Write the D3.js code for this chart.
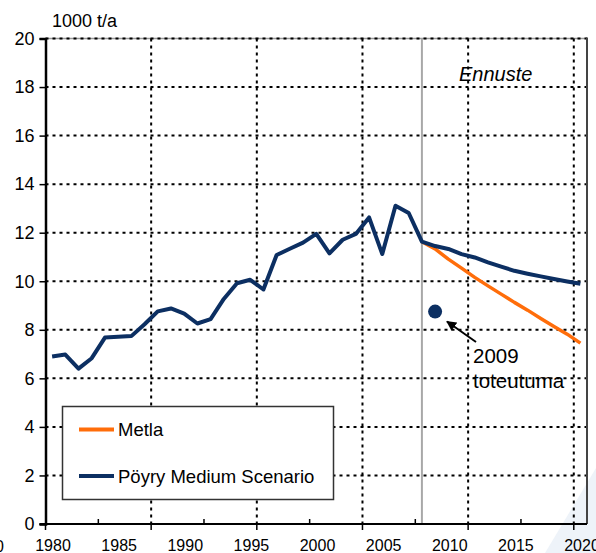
<!DOCTYPE html>
<html><head><meta charset="utf-8">
<script src="https://cdn.jsdelivr.net/npm/d3@7"></script>
<style>
html,body{margin:0;padding:0;background:#fff;}
svg{display:block;font-family:"Liberation Sans",Arial,sans-serif;}
</style></head>
<body>
<svg id="c" width="596" height="553"></svg>
<script>
// ---- data ----
const histYears = [1980,1981,1982,1983,1984,1985,1986,1987,1988,1989,1990,1991,1992,1993,1994,1995,1996,1997,1998,1999,2000,2001,2002,2003,2004,2005,2006,2007,2008];
const histValues = [6.90,6.98,6.40,6.83,7.68,7.71,7.74,8.23,8.76,8.88,8.67,8.26,8.44,9.27,9.92,10.06,9.66,11.08,11.34,11.59,11.95,11.15,11.71,11.95,12.63,11.12,13.11,12.81,11.63];
const fcYears = [2008,2009,2010,2011,2012,2013,2014,2015,2016,2017,2018,2019,2020];
const poyryForecast = [11.63,11.45,11.33,11.12,10.98,10.78,10.60,10.43,10.31,10.20,10.09,9.99,9.90];
const metlaForecast = [11.63,11.33,10.91,10.54,10.16,9.81,9.47,9.13,8.81,8.47,8.14,7.82,7.45];
const actualYear = 2009, actualValue = 8.75;
const yTicks = [0,2,4,6,8,10,12,14,16,18,20];
const xLabels = [1980,1985,1990,1995,2000,2005,2010,2015,2020];
const seriesNames = ["Metla","Pöyry Medium Scenario"];
const forecastStart = 2008;

// ---- layout ----
const L = 45.5, R = 587, T = 38.5, B = 524;
const navy = "#0c2f62", orange = "#ff6d0a";
const svg = d3.select("#c");

const x = d3.scaleLinear().domain([1979.5, 2020.5]).range([L, R]);
const xl = d3.scaleLinear().domain([1980, 2020]).range([52.5, 581.5]);
const y = d3.scaleLinear().domain([0, 20]).range([B, T]);

// background decoration
svg.append("polygon").attr("points","545,553 596,468 596,553").attr("fill","#eef3f9");

// top border (grey)
svg.append("line").attr("x1",L).attr("x2",R).attr("y1",T).attr("y2",T).attr("stroke","#999").attr("stroke-width",1.5);

// horizontal grid
svg.append("g").selectAll("line").data(yTicks.filter(d=>d>0)).join("line")
  .attr("x1",L).attr("x2",R).attr("y1",d=>y(d)).attr("y2",d=>y(d))
  .attr("stroke","#000").attr("stroke-width",2).attr("stroke-dasharray","3,4");

// vertical grid (every 8 years from axis origin)
const gridX = d3.range(1987.5, 2020.5, 8);
svg.append("g").selectAll("line").data(gridX).join("line")
  .attr("x1",d=>x(d)).attr("x2",d=>x(d)).attr("y1",T).attr("y2",B)
  .attr("stroke","#000").attr("stroke-width",2).attr("stroke-dasharray","3,4");

// forecast divider
svg.append("line").attr("x1",x(forecastStart)).attr("x2",x(forecastStart)).attr("y1",T).attr("y2",B)
  .attr("stroke","#a8a8a8").attr("stroke-width",2);

// right border
svg.append("line").attr("x1",R).attr("x2",R).attr("y1",T-1).attr("y2",B).attr("stroke","#444").attr("stroke-width",2);

// y axis
const yAxis = d3.axisLeft(y).tickValues(yTicks).tickSize(6).tickPadding(5).tickFormat(d3.format("d"));
const gy = svg.append("g").attr("transform",`translate(${L},0)`).call(yAxis);
gy.select(".domain").attr("stroke","#000").attr("stroke-width",2.5);
gy.selectAll(".tick line").attr("stroke","#000").attr("stroke-width",1.5);
gy.selectAll(".tick text").attr("font-size",18).attr("fill","#000").attr("font-family","Liberation Sans, Arial, sans-serif");

// x axis ticks: down at grid positions, up in-between
const tickX = d3.range(1979.5, 2020.5, 4);
const gx = svg.append("g");
gx.append("line").attr("x1",L-6).attr("x2",R).attr("y1",B).attr("y2",B).attr("stroke","#000").attr("stroke-width",2);
gx.selectAll("line.t").data(tickX).join("line").attr("class","t")
  .attr("x1",d=>x(d)).attr("x2",d=>x(d))
  .attr("y1",B).attr("y2",(d,i)=> i%2===0 ? B+6 : B-5)
  .attr("stroke","#000").attr("stroke-width",1.5);

// x labels
const xAxis = d3.axisBottom(xl).tickValues(xLabels).tickSize(0).tickPadding(0).tickFormat(d3.format("d"));
const gxl = svg.append("g").attr("transform",`translate(0,${B+16})`).call(xAxis);
gxl.select(".domain").remove();
gxl.selectAll(".tick text").attr("font-size",16).attr("fill","#000").attr("dy","0.71em").attr("y",0)
  .attr("font-family","Liberation Sans, Arial, sans-serif");
svg.append("text").attr("x",4).attr("y",552).attr("text-anchor","end").attr("font-size",16).text("0");

// unit label
svg.append("text").attr("x",52).attr("y",27).attr("font-size",18).text("1000 t/a");

// lines
const line = d3.line().x(d=>x(d[0])).y(d=>y(d[1]));
const hist = histYears.map((yr,i)=>[yr,histValues[i]]);
const poyry = fcYears.map((yr,i)=>[yr,poyryForecast[i]]);
const metla = fcYears.map((yr,i)=>[yr,metlaForecast[i]]);

svg.append("path").datum(metla).attr("d",line).attr("fill","none").attr("stroke",orange).attr("stroke-width",3.5).attr("stroke-linejoin","round");
svg.append("path").datum(hist.concat(poyry.slice(1))).attr("d",line).attr("fill","none").attr("stroke",navy).attr("stroke-width",4).attr("stroke-linejoin","round");

// actual point
svg.append("circle").attr("cx",x(actualYear)).attr("cy",y(actualValue)).attr("r",7).attr("fill",navy);

// arrow
svg.append("defs").append("marker").attr("id","ah").attr("viewBox","0 0 10 10").attr("refX",9).attr("refY",5)
  .attr("markerWidth",5).attr("markerHeight",5).attr("orient","auto")
  .append("path").attr("d","M0,0 L10,5 L0,10 z").attr("fill","#000");
svg.append("line").attr("x1",476).attr("y1",342).attr("x2",447).attr("y2",321.5)
  .attr("stroke","#000").attr("stroke-width",2).attr("marker-end","url(#ah)");
svg.append("text").attr("x",473).attr("y",363).attr("font-size",20.5).text("2009");
svg.append("text").attr("x",473).attr("y",388).attr("font-size",20.5).text("toteutuma");

// Ennuste
svg.append("text").attr("x",459).attr("y",81).attr("font-size",20).attr("font-style","italic").text("Ennuste");

// legend
const lg = svg.append("g");
lg.append("rect").attr("x",62.5).attr("y",406.5).attr("width",271).attr("height",93)
  .attr("fill","#fff").attr("stroke","#333").attr("stroke-width",1.5);
const lgColors = [orange, navy];
const lgY = [429.5, 476];
seriesNames.forEach((n,i)=>{
  lg.append("line").attr("x1",79).attr("x2",114).attr("y1",lgY[i]).attr("y2",lgY[i]).attr("stroke",lgColors[i]).attr("stroke-width",4);
  lg.append("text").attr("x",118).attr("y",lgY[i]+6.5).attr("font-size",18.5).text(n);
});
</script>
</body></html>
